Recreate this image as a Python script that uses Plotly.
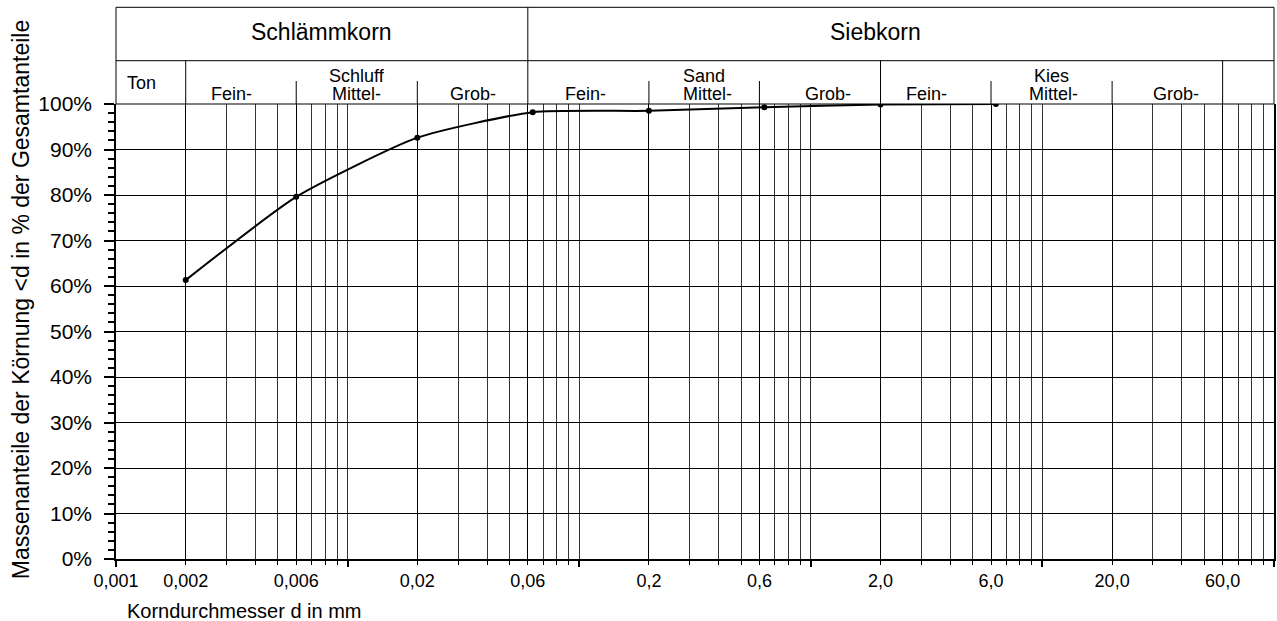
import math
import plotly.graph_objects as go

# ---------------- data ----------------
diameters = [0.002, 0.006, 0.02, 0.063, 0.2, 0.63, 2.0, 6.3]
passing = [61.3, 79.6, 92.6, 98.2, 98.5, 99.3, 99.9, 100.0]

x_tickvals = [0.001, 0.002, 0.006, 0.02, 0.06, 0.2, 0.6, 2.0, 6.0, 20.0, 60.0]
x_ticktext = ["0,001", "0,002", "0,006", "0,02", "0,06", "0,2", "0,6", "2,0", "6,0", "20,0", "60,0"]
decades = [0.001, 0.01, 0.1, 1.0, 10.0, 100.0]

y_tickvals = [0, 10, 20, 30, 40, 50, 60, 70, 80, 90, 100]
y_ticktext = [f"{v}%" for v in y_tickvals]

# header classification
main_groups = [("Schlämmkorn", 0.001, 0.06), ("Siebkorn", 0.06, 60.0)]
sub_bounds = [0.002, 0.006, 0.02, 0.06, 0.2, 0.6, 2.0, 6.0, 20.0, 60.0]
soil_names = [("Schluff", 0.006, 0.02), ("Sand", 0.2, 0.6), ("Kies", 6.0, 20.0)]
sub_names = ["Fein-", "Mittel-", "Grob-"] * 3
sub_shift = [-9, 0, 0, -3, 3, 8, -9, 2, 9]

# ---------------- geometry ----------------
W, H = 1277, 621
ML, MR, MT, MB = 116, 1, 104, 62
plot_h = H - MT - MB
plot_bottom = MT + plot_h
XMIN, XMAX = math.log10(0.001), math.log10(100.0)


def xf(v):
    return (math.log10(v) - XMIN) / (XMAX - XMIN)


def yf(px):
    return (plot_bottom - px) / plot_h


hdr_top = yf(7.3)
hdr_sep = yf(60.7)
hdr_sub = yf(81)

minor_vals = []
for d in decades[:-1]:
    for m in range(1, 10):
        v = round(d * m, 6)
        if v > 0.001 and all(abs(v - t) > 1e-9 for t in x_tickvals):
            minor_vals.append(v)

fig = go.Figure()
fig.add_trace(go.Scatter(
    x=diameters, y=passing, mode="lines+markers",
    line=dict(color="black", width=2, shape="spline", smoothing=0.55),
    marker=dict(color="black", size=6),
    showlegend=False, hoverinfo="x+y",
))
# invisible trace for decade tick axis
fig.add_trace(go.Scatter(x=[0.001, 100], y=[0, 0], xaxis="x2", mode="markers",
                         marker=dict(opacity=0), showlegend=False, hoverinfo="skip"))

font = "Liberation Sans, Arial, sans-serif"

shapes = []
line = dict(color="black", width=1)
# header box
shapes.append(dict(type="rect", xref="paper", yref="paper", x0=0, x1=1, y0=1, y1=hdr_top, line=line))
shapes.append(dict(type="line", xref="paper", yref="paper", x0=0, x1=1, y0=hdr_sep, y1=hdr_sep, line=line))
shapes.append(dict(type="line", xref="paper", yref="paper", x0=xf(0.06), x1=xf(0.06), y0=1, y1=hdr_top, line=line))
for b in [0.002, 2.0, 60.0]:
    shapes.append(dict(type="line", xref="paper", yref="paper", x0=xf(b), x1=xf(b), y0=1, y1=hdr_sep, line=line))
for b in [0.006, 0.02, 0.2, 0.6, 6.0, 20.0]:
    shapes.append(dict(type="line", xref="paper", yref="paper", x0=xf(b), x1=xf(b), y0=1, y1=hdr_sub, line=line))

annotations = []
for name, a, b in main_groups:
    annotations.append(dict(text=name, xref="paper", yref="paper", x=(xf(a) + xf(b)) / 2, y=yf(32),
                            showarrow=False, xanchor="center", yanchor="middle",
                            font=dict(family=font, size=23, color="black")))
annotations.append(dict(text="Ton", xref="paper", yref="paper", x=(xf(0.001) + xf(0.002)) / 2, y=yf(83),
                        xshift=-9, showarrow=False, xanchor="center", yanchor="middle",
                        font=dict(family=font, size=18, color="black")))
for name, a, b in soil_names:
    annotations.append(dict(text=name, xref="paper", yref="paper", x=(xf(a) + xf(b)) / 2, y=yf(76),
                            showarrow=False, xanchor="center", yanchor="middle",
                            font=dict(family=font, size=18, color="black")))
for i, name in enumerate(sub_names):
    a, b = sub_bounds[i], sub_bounds[i + 1]
    annotations.append(dict(text=name, xref="paper", yref="paper", x=(xf(a) + xf(b)) / 2, y=yf(94),
                            xshift=sub_shift[i], showarrow=False, xanchor="center", yanchor="middle",
                            font=dict(family=font, size=18, color="black")))
# axis titles
annotations.append(dict(text="Korndurchmesser d in mm", xref="paper", yref="paper",
                        x=(125 - ML) / (W - ML - MR), y=yf(611), showarrow=False,
                        xanchor="left", yanchor="middle",
                        font=dict(family=font, size=20, color="black")))
annotations.append(dict(text="Massenanteile der Körnung <d in % der Gesamtanteile", xref="paper", yref="paper",
                        x=(21 - ML) / (W - ML - MR), y=yf(300), showarrow=False, textangle=-90,
                        xanchor="center", yanchor="middle",
                        font=dict(family=font, size=23, color="black")))

fig.update_layout(
    width=W, height=H,
    margin=dict(l=ML, r=MR, t=MT, b=MB, pad=0),
    paper_bgcolor="white", plot_bgcolor="white",
    font=dict(family=font, color="black"),
    shapes=shapes, annotations=annotations,
    xaxis=dict(
        type="log", range=[XMIN, XMAX],
        tickmode="array", tickvals=x_tickvals, ticktext=x_ticktext,
        ticks="outside", ticklen=4, tickcolor="black", tickwidth=1,
        tickfont=dict(family=font, size=18, color="black"),
        showgrid=True, gridcolor="black", gridwidth=1,
        showline=True, linecolor="black", linewidth=1.5, mirror=False,
        zeroline=False, ticklabelstandoff=1,
        minor=dict(tickmode="array", tickvals=minor_vals, showgrid=True,
                   gridcolor="#333333", gridwidth=1, ticks="outside", ticklen=4,
                   tickcolor="black"),
    ),
    xaxis2=dict(
        type="log", range=[XMIN, XMAX], overlaying="x", anchor="y", side="bottom",
        tickmode="array", tickvals=decades, showticklabels=False,
        ticks="outside", ticklen=7, tickcolor="black", tickwidth=1.5,
        showgrid=False, showline=False, zeroline=False,
    ),
    yaxis=dict(
        range=[0, 100], tickmode="array", tickvals=y_tickvals, ticktext=y_ticktext,
        ticks="outside", ticklen=10, tickcolor="black", tickwidth=1.5,
        tickfont=dict(family=font, size=21, color="black"),
        showgrid=True, gridcolor="black", gridwidth=1,
        showline=True, linecolor="black", linewidth=1.5, mirror=True,
        zeroline=False, ticklabelstandoff=8,
        minor=dict(dtick=2, ticks="outside", ticklen=6, tickcolor="black", tickwidth=1.5, showgrid=False),
    ),
)

fig.write_html("out.html", config={"displayModeBar": False},
               post_script="document.body.style.margin='0';document.body.style.overflow='hidden';")
